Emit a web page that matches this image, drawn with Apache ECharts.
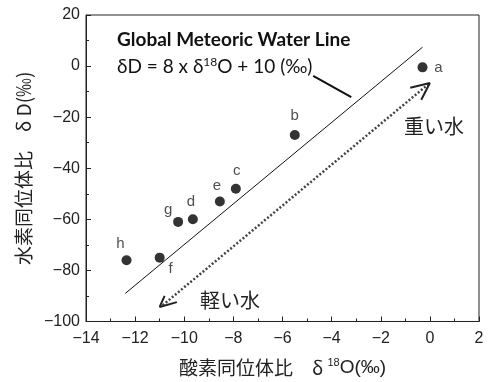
<!DOCTYPE html>
<html><head><meta charset="utf-8">
<script src="https://cdn.jsdelivr.net/npm/echarts@6/dist/echarts.min.js"></script>
<style>html,body{margin:0;padding:0;background:#fff}#c{width:490px;height:382px}</style>
</head><body><div id="c"></div>
<script>
// Data
var pointNames = ['a','b','c','d','e','f','g','h'];
var pointX = [-0.3, -5.5, -7.9, -9.65, -8.55, -11.0, -10.25, -12.35];
var pointY = [-0.5, -27, -48, -60, -53, -75, -61, -76];
var gmwlX = [-12.4, -0.3];
var gmwlY = [-89, 7.4];
var leaderX = [-4.75, -3.2];
var leaderY = [-3.8, -12.2];
var arrowX = [-0.05, -10.9];
var arrowY = [-7, -93.8];
var headUpX = [-0.8, 0, -0.35];
var headUpY = [-8.5, -6.6, -13.2];
var headLoX = [-10.3, -11.0, -10.8];
var headLoY = [-92.4, -94.3, -90];
var xTicks = [-14, 2, 2];   // min, max, interval
var yTicks = [-100, 20, 20];

var labelOffsets = {a:[16,0], b:[0,-19], c:[1,-18], d:[-2,-17], e:[-3,-16], f:[11,11], g:[-10,-12], h:[-6,-16]};

var chart = echarts.init(document.getElementById('c'));
var fmt = function(v){ return String(v).replace('-', '\u2212'); };
var axisCommon = {
  axisLine: {onZero:false, lineStyle:{color:'#222', width:1}},
  axisTick: {inside:true, length:5, lineStyle:{color:'#222'}},
  minorTick: {show:true, splitNumber:2, length:3, lineStyle:{color:'#222'}},
  splitLine: {show:false},
  axisLabel: {color:'#222', fontFamily:'Liberation Sans', fontSize:16, formatter: fmt},
  nameLocation:'middle',
  nameTextStyle:{color:'#222', fontFamily:'Noto Sans CJK JP', fontSize:19,
    rich:{s:{fontSize:11, fontFamily:'Liberation Sans', color:'#222', verticalAlign:'top', padding:[0,0,9,0]},
          t:{fontSize:19, fontFamily:'Liberation Sans', color:'#222'}}}
};
function xy(xs, ys){ return xs.map(function(x,i){ return [x, ys[i]]; }); }

var pts = pointNames.map(function(n,i){
  var o = labelOffsets[n];
  return {value:[pointX[i], pointY[i]], name:n, label:{offset:o}};
});

chart.setOption({
  animation:false,
  grid:{left:86, right:11, top:15, bottom:59, show:true, borderColor:'#222', borderWidth:1},
  xAxis: Object.assign({}, axisCommon, {type:'value', min:xTicks[0], max:xTicks[1], interval:xTicks[2],
    name:'酸素同位体比　δ {s|18}{t|O(‰)}', nameGap:36,
    axisLabel:Object.assign({}, axisCommon.axisLabel, {margin:9})}),
  yAxis: Object.assign({}, axisCommon, {type:'value', min:yTicks[0], max:yTicks[1], interval:yTicks[2],
    name:'水素同位体比　δ D(‰)', nameGap:52,
    axisLabel:Object.assign({}, axisCommon.axisLabel, {margin:6})}),
  series:[
    {type:'line', data:xy(gmwlX,gmwlY), showSymbol:false, symbol:'none', lineStyle:{color:'#111', width:1}, z:2},
    {type:'line', data:xy(leaderX,leaderY), symbol:'none', lineStyle:{color:'#111', width:2}, z:2},
    {type:'line', data:xy(arrowX,arrowY), symbol:'none', lineStyle:{color:'#444', width:2.5, type:[2,2]}, z:2},
    {type:'line', data:xy(headUpX,headUpY), symbol:'none', lineStyle:{color:'#222', width:2}, z:2},
    {type:'line', data:xy(headLoX,headLoY), symbol:'none', lineStyle:{color:'#222', width:2}, z:2},
    {type:'scatter', data:pts, symbol:'circle', symbolSize:10, itemStyle:{color:'#000'}, z:3,
      label:{show:true, position:'inside', formatter:'{b}', color:'#222', fontFamily:'Liberation Sans', fontSize:15}}
  ],
  graphic:[
    {type:'text', left:117, top:30, style:{text:'Global Meteoric Water Line', font:'bold 19px Lato', fill:'#111'}},
    {type:'text', left:117, top:56, style:{
      text:'δD = 8 x δ{s|18}O + 10 (‰)', font:'19px Lato', fill:'#111',
      rich:{s:{fontSize:12, fontFamily:'Lato', verticalAlign:'top', padding:[0,0,9,0]}}}},
    {type:'text', left:404, top:116, style:{text:'重い水', font:'20px "Noto Sans CJK JP"', fill:'#222'}},
    {type:'text', left:200, top:290, style:{text:'軽い水', font:'20px "Noto Sans CJK JP"', fill:'#222'}}
  ]
});
</script></body></html>
